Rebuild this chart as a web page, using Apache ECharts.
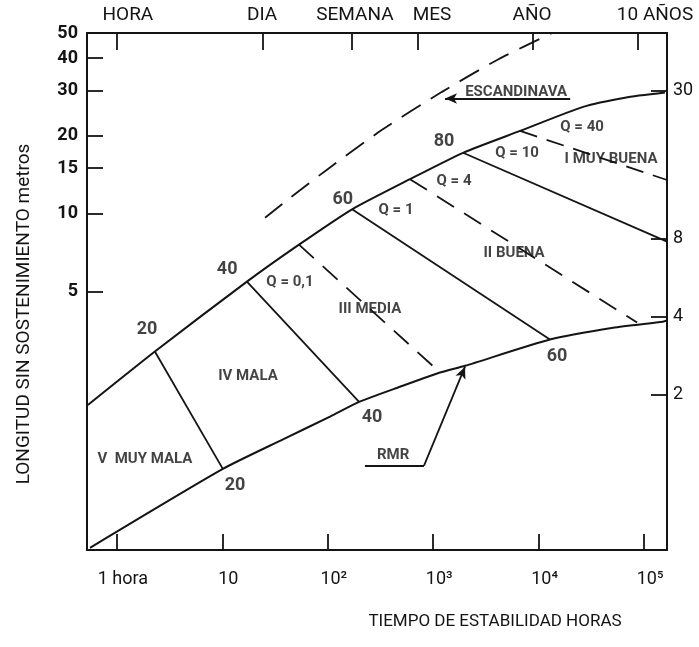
<!DOCTYPE html>
<html><head><meta charset="utf-8">
<script src="https://cdn.jsdelivr.net/npm/echarts@6/dist/echarts.min.js"></script>
<style>html,body{margin:0;padding:0;background:#fff}#c{width:699px;height:647px}</style>
</head><body><div id="c"></div>
<script>
// ---- data (x: hours, y: metres) ----
const upperRMR = [[0.53,1.82],[2.29,2.93],[17.1,5.46],[53.3,7.59],[170,10.4],[602,13.6],[1918,17.2],[6660,20.9],[26400,25.9],[66000,28.1],[158000,29.4]];
const lowerRMR = [[0.555,0.51],[10.1,1.03],[37.6,1.34],[105,1.64],[198,1.87],[484,2.14],[1161,2.43],[2004,2.58],[12800,3.26],[50800,3.62],[151000,3.82],[165000,3.86]];
const escandinava = [[25.4,9.65],[43.8,11.5],[98.3,14.8],[327,21.1],[1212,29.6],[4120,39.5],[13400,50]];
const boundV_IV   = [[2.29,2.93],[10.1,1.03]];
const boundIV_III = [[17.1,5.46],[198,1.87]];
const boundIII_II = [[170,10.4],[12800,3.26]];
const boundII_I   = [[1918,17.2],[165000,7.8]];
const q01  = [[53.3,7.59],[1161,2.43]];
const q4   = [[602,13.6],[85900,3.79]];
const q40  = [[6660,20.9],[165000,13.5]];
const escArrow = [[19900,27.9],[1294,27.9]];
const rmrUnderline = [[225,1.06],[818,1.06]];
const rmrArrow = [[818,1.06],[2004,2.56]];
const bigLabels = [
  ['20',1.93,3.56],['40',11.1,6.07],['60',139,11.3],['80',1266,19.1],
  ['20',13.2,0.887],['40',263,1.63],['60',14960,2.80]
];
const smallLabels = [
  ['Q = 0,1',43.8,5.41],['Q = 1',444,10.3],['Q = 4',1574,13.3],['Q = 10',6240,17.2],['Q = 40',25800,21.5],
  ['I MUY BUENA',48600,16.3],['II BUENA',5840,7.06],['III MEDIA',251,4.25],['IV MALA',17.5,2.34],['V  MUY MALA',1.84,1.12],
  ['ESCANDINAVA',6110,29.4],['RMR',416,1.16]
];
const bottomTicks = [1,10,100,1000,10000,100000];
const bottomTickLabels = ['1 hora','10','10²','10³','10⁴','10⁵'];
const topTicks = [1,24,168,720,8760,87600];
const topLabelAnchors = [1.27,23.8,181,974,8650,127000];
const topTickLabels = ['HORA','DIA','SEMANA','MES','AÑO','10 AÑOS'];
const leftTicks = [5,10,15,20,30,40];
const leftLabels = [5,10,15,20,30,40,50];
const rightTicks = [2,4,8,30];
const yTitle = 'LONGITUD SIN SOSTENIMIENTO metros';
const xTitle = 'TIEMPO DE ESTABILIDAD HORAS';

const FONT = "Roboto, sans-serif";
const INK = '#141414';
const chart = echarts.init(document.getElementById('c'));

function solid(d, w, sm){ return {type:'line', data:d, smooth:sm||false, showSymbol:false, symbol:'none', silent:true, lineStyle:{color:INK, width:w||1.8}}; }
function dashed(d, dash, sm){ return {type:'line', data:d, smooth:sm||false, showSymbol:false, symbol:'none', silent:true, lineStyle:{color:INK, width:1.8, type:dash||[18,10]}}; }
function arrowLine(d, arrowEnd){
  return {type:'line', data:[], silent:true, markLine:{silent:true, animation:false, label:{show:false},
    lineStyle:{color:INK, width:1.8, type:'solid'}, symbolSize:[8,12],
    data:[[{coord:d[0], symbol:'none'},{coord:d[1], symbol: arrowEnd ? 'arrow':'none'}]]}};
}
function labelSeries(arr, size, weight){
  return {type:'scatter', symbolSize:0, silent:true,
    data: arr.map(a=>({name:a[0], value:[a[1],a[2]]})),
    label:{show:true, position:'inside', formatter:'{b}', color:INK, fontFamily:FONT, fontSize:size, fontWeight:weight}};
}
function mapLabel(ticks, labels){ return v => { for(let i=0;i<ticks.length;i++){ if(Math.abs(Math.log10(v)-Math.log10(ticks[i]))<1e-6) return labels[i]; } return ''; }; }

const axisLineStyle = {show:true, lineStyle:{color:INK, width:2}};
chart.setOption({
  animation:false,
  grid:{left:87, right:32, top:33, bottom:97, containLabel:false},
  xAxis:[
    {type:'log', logBase:10, min:0.52, max:165000, position:'bottom', axisLine:axisLineStyle, splitLine:{show:false},
     axisTick:{show:true, inside:true, length:16, lineStyle:{color:INK, width:1.8}, customValues:bottomTicks},
     axisLabel:{customValues:bottomTicks, formatter:mapLabel(bottomTicks,bottomTickLabels), margin:20, padding:[0,0,0,12], color:INK, fontFamily:FONT, fontSize:18}},
    {type:'log', logBase:10, min:0.52, max:165000, position:'top', axisLine:axisLineStyle, splitLine:{show:false},
     axisTick:{show:true, inside:true, length:17, lineStyle:{color:INK, width:1.8}, customValues:topTicks},
     axisLabel:{customValues:topLabelAnchors, formatter:mapLabel(topLabelAnchors,topTickLabels), margin:8, color:INK, fontFamily:FONT, fontSize:19}}
  ],
  yAxis:[
    {type:'log', logBase:10, min:0.5, max:50, position:'left', axisLine:axisLineStyle, splitLine:{show:false},
     axisTick:{show:true, inside:true, length:16, lineStyle:{color:INK, width:1.8}, customValues:leftTicks},
     axisLabel:{customValues:leftLabels, formatter:v=>String(Math.round(v)), margin:9, color:INK, fontFamily:FONT, fontSize:18, fontWeight:'bold'}},
    {type:'log', logBase:10, min:0.5, max:50, position:'right', axisLine:axisLineStyle, splitLine:{show:false},
     axisTick:{show:true, inside:true, length:16, lineStyle:{color:INK, width:1.8}, customValues:rightTicks},
     axisLabel:{customValues:rightTicks, formatter:v=>String(Math.round(v)), margin:6, color:INK, fontFamily:FONT, fontSize:18}}
  ],
  series:[
    solid(upperRMR,2,0.2), solid(lowerRMR,2,0.2),
    dashed(escandinava,[22,12],0.25),
    solid(boundV_IV), solid(boundIV_III), solid(boundIII_II), solid(boundII_I),
    dashed(q01,[20,12]), dashed(q4,[20,12]), dashed(q40,[18,10]),
    arrowLine(escArrow,true), arrowLine(rmrUnderline,false), arrowLine(rmrArrow,true),
    labelSeries(bigLabels,18,'bold'),
    labelSeries(smallLabels,15,'bold')
  ],
  graphic:[
    {type:'text', x:24, y:314, rotation:Math.PI/2, style:{text:yTitle, fill:INK, font:"19px Roboto, sans-serif", textAlign:'center', textVerticalAlign:'middle'}},
    {type:'text', x:495, y:622, style:{text:xTitle, fill:INK, font:"17px Roboto, sans-serif", textAlign:'center', textVerticalAlign:'middle'}}
  ]
});
</script></body></html>
